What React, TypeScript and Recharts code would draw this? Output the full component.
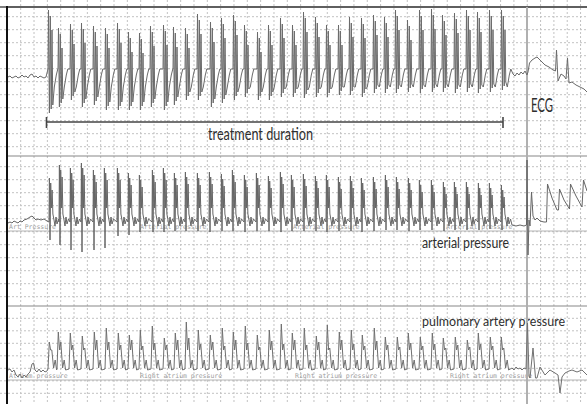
import React from 'react';
import { LineChart, Line, XAxis, YAxis, CartesianGrid, ReferenceLine } from 'recharts';

const W = 587;
const H = 404;

// time axis is in samples across the strip; amplitudes are relative to each trace's resting level

// ECG: beats during the treatment
const ecgBeatTimes = [48, 58, 70, 81, 93, 105, 117, 128, 139, 150, 163, 173, 185, 197, 210, 221, 233, 244, 257, 268, 280, 292, 303, 315, 326, 338, 349, 361, 373, 384, 395, 407, 419, 431, 442, 454, 466, 477, 489, 501];
const ecgPeaks = [67, 49, 53, 54, 51, 49, 54, 45, 44, 51, 52, 50, 49, 63, 55, 59, 62, 52, 45, 52, 59, 52, 65, 60, 52, 52, 60, 59, 62, 60, 67, 57, 67, 68, 62, 64, 67, 65, 67, 67];
const ecgTroughs = [-36, -30, -23, -30, -28, -33, -33, -33, -33, -30, -33, -28, -23, -23, -30, -26, -23, -20, -23, -23, -20, -20, -21, -20, -20, -18, -18, -20, -16, -16, -16, -15, -16, -15, -15, -16, -15, -16, -15, -13];
const ecgBefore = [[8, 0], [10, 1], [12, -1], [14, 0], [16, 1], [18, -1], [20, 0], [22, 2], [24, 0], [26, 1], [28, -1], [30, 2], [32, 3], [34, 0], [36, 1], [38, -1], [40, 1], [42, 0], [44, -1], [46, 0]];
const ecgAfter = [[513, 3], [515, 1], [517, 4], [519, 2], [521, 5], [523, 3], [525, 6], [527, 2], [528, 5], [529.5, 14], [532, 17], [535, 19], [537, 20], [541, 16], [545, 12], [549, 10], [553, 7], [555.5, 6], [556.5, 27], [558, -4], [561, 3], [564, 1], [566, -2], [567.5, 19], [569, -6], [572, -5], [576, -8], [580, -10], [584, -12], [587, -15]];

// arterial pressure
const artBeatTimes = [49, 59, 70, 81, 93, 104, 117, 128, 139, 152, 163, 174, 185, 197, 209, 221, 232, 244, 256, 268, 280, 291, 303, 315, 326, 338, 350, 361, 373, 385, 396, 408, 419, 431, 443, 454, 466, 478, 489, 501];
const artPeaks = [44, 57, 54, 59, 52, 54, 54, 49, 47, 52, 54, 49, 50, 49, 50, 48, 52, 47, 49, 46, 50, 47, 48, 46, 47, 45, 46, 44, 45, 47, 45, 44, 42, 42, 40, 40, 40, 39, 39, 37];
const artDips = [-18, -23, -28, -30, -28, -26, -14, -13, -10, -10, -10, -9, -9, -9, -10, -9, -9, -10, -9, -9, -10, -9, -9, -9, -10, -9, -9, -10, -9, -8, -8, -9, -8, -8, -9, -8, -8, -8, -7, -8];
const artBefore = [[8, -1], [10, 0], [12, -1], [14, 1], [16, 0], [18, -1], [20, 1], [22, 0], [24, 2], [27, 3], [30, 5], [32, 6], [34, 4], [36, 2], [38, 3], [41, 2], [44, 3], [47, 1]];
const artAfter = [[512, -3], [516, -4], [520, -3], [524, -4], [526.5, -3], [527, 62], [528, -33], [529, 2], [530, -4], [531.5, 30], [533, 6], [535, 2], [537, 4], [540, 1], [544, 0], [546.5, 0], [547.5, 38], [552, 24], [557, 12], [558.5, 12], [559.5, 33], [564, 22], [569.5, 13], [570.5, 38], [576, 26], [582, 15], [583.5, 42], [587, 31]];

// pulmonary artery pressure
const papBeatTimes = [48, 57, 69, 81, 93, 105, 117, 128, 139, 151, 163, 174, 185, 197, 209, 221, 232, 244, 256, 268, 280, 291, 303, 315, 326, 338, 350, 361, 373, 384, 396, 407, 419, 431, 442, 454, 466, 477, 489, 500];
const papFirstPeaks = [30, 40, 39, 36, 40, 44, 39, 37, 42, 46, 34, 39, 50, 42, 37, 44, 40, 46, 37, 42, 48, 39, 44, 36, 47, 40, 42, 37, 44, 35, 35, 39, 35, 39, 34, 35, 32, 39, 35, 35];
const papSecondPeaks = [22, 30, 27, 24, 32, 30, 27, 32, 26, 29, 27, 32, 34, 28, 30, 26, 32, 29, 25, 31, 28, 32, 27, 30, 24, 32, 28, 26, 31, 27, 25, 29, 26, 28, 24, 27, 25, 28, 26, 24];
const papBefore = [[8, 2], [10, 3], [12, 0], [14, 2], [16, -3], [18, -5], [20, -2], [22, -6], [24, -3], [26, -5], [28, -2], [30, 0], [32, 8], [33.5, 9], [35, 2], [37, 0], [39, 3], [41, 0], [43, 2], [45, 0], [47, 1]];
const papAfter = [[512, 4], [514, 2], [516, 5], [518, 3], [520, 4], [522, 2], [524, 4], [526, 3], [527.5, 49], [529, -4], [530, -6], [533, 24], [535.5, -6], [537, -6], [540, 5], [545, -3], [550, 2], [555, -1], [558, -3], [560, -21], [562, -5], [565, -1], [569, 1], [572, 2], [577, 0], [582, 2], [587, -3]];

const traceLabels = ['ECG', 'treatment duration', 'arterial pressure', 'pulmonary artery pressure'];
const monitorLabels = ['Art Pressure', 'Arterial pressure', 'Atrium pressure', 'Right atrium pressure'];

type Pt = { t: number; v: number };
const toPts = (pairs: number[][]): Pt[] => pairs.map(([t, v]) => ({ t, v }));

function buildEcg(): Pt[] {
  const pts = toPts(ecgBefore);
  ecgBeatTimes.forEach((t, i) => {
    const hi = ecgPeaks[i];
    const lo = ecgTroughs[i];
    pts.push(
      { t, v: 8 },
      { t: t + 0.5, v: hi },
      { t: t + 1.4, v: lo },
      { t: t + 2.3, v: hi - 6 },
      { t: t + 3.2, v: lo + 4 },
      { t: t + 4.0, v: hi - 20 },
      { t: t + 4.8, v: lo + 8 },
      { t: t + 6.3, v: -10 },
      { t: t + 8.3, v: 2 },
      { t: t + 9.8, v: 8 },
    );
  });
  return pts.concat(toPts(ecgAfter));
}

function buildArt(): Pt[] {
  const pts = toPts(artBefore);
  artBeatTimes.forEach((t, i) => {
    const hi = artPeaks[i];
    pts.push(
      { t, v: 0 },
      { t: t + 0.4, v: hi },
      { t: t + 1.0, v: artDips[i] },
      { t: t + 1.7, v: hi - 5 },
      { t: t + 2.4, v: 14 },
      { t: t + 3.1, v: hi - 12 },
      { t: t + 3.9, v: 8 },
      { t: t + 5, v: 2 },
      { t: t + 6, v: -4 },
      { t: t + 7, v: 5 },
      { t: t + 8, v: -2 },
      { t: t + 9.5, v: 3 },
    );
  });
  return pts.concat(toPts(artAfter));
}

function buildPap(): Pt[] {
  const pts = toPts(papBefore);
  papBeatTimes.forEach((t, i) => {
    pts.push(
      { t, v: 3 },
      { t: t + 1.3, v: papFirstPeaks[i] },
      { t: t + 2.6, v: 22 },
      { t: t + 3.8, v: papSecondPeaks[i] },
      { t: t + 5.6, v: 4 },
      { t: t + 7.2, v: 12 },
      { t: t + 8.6, v: 2 },
    );
  });
  return pts.concat(toPts(papAfter));
}

const ecgData = buildEcg();
const artData = buildArt();
const papData = buildPap();

// resting level of each trace, measured down from the top of the strip
const ECG_BASE = 77;
const ART_BASE = 222;
const PAP_BASE = 372;

const gridX = Array.from({ length: 44 }, (_, k) => 20.7 + 13.33 * k);
const gridY = [
  ...Array.from({ length: 11 }, (_, k) => 16.7 + 13 * k),
  ...Array.from({ length: 11 }, (_, k) => 166.7 + 13 * k),
  ...Array.from({ length: 7 }, (_, k) => 318.3 + 12.5 * k),
];

const labelFont = 'Lato, "Open Sans", sans-serif';
const monoFont = '"DejaVu Sans Mono", monospace';

// frame pieces are placed on the arterial axis; depth is measured down from the strip top
const Seg = (key: string, x1: number, d1: number, x2: number, d2: number, stroke: string, w: number) => (
  <ReferenceLine
    key={key}
    yAxisId="art"
    ifOverflow="visible"
    segment={[{ x: x1, y: ART_BASE - d1 }, { x: x2, y: ART_BASE - d2 }]}
    stroke={stroke}
    strokeWidth={w}
  />
);

export default function App() {
  return (
    <div style={{ position: 'absolute', left: 0, top: 0, width: W, height: H, background: '#fff' }}>
      <LineChart width={W} height={H} margin={{ top: 0, right: 0, bottom: 0, left: 0 }}>
        <XAxis type="number" dataKey="t" domain={[0, W]} hide allowDataOverflow />
        <YAxis yAxisId="ecg" type="number" domain={[ECG_BASE - H, ECG_BASE]} hide allowDataOverflow />
        <YAxis yAxisId="art" type="number" domain={[ART_BASE - H, ART_BASE]} hide allowDataOverflow />
        <YAxis yAxisId="pap" type="number" domain={[PAP_BASE - H, PAP_BASE]} hide allowDataOverflow />
        <CartesianGrid
          yAxisId="ecg"
          verticalPoints={gridX}
          horizontalPoints={gridY}
          stroke="#c2c2c2"
          strokeDasharray="2 2"
        />
        {/* top edge of the strip */}
        <CartesianGrid yAxisId="ecg" vertical={false} horizontalPoints={[7]} stroke="#555" strokeWidth={1.6} />

        {/* strip frame */}
        <line x1={6} y1={7} x2={W} y2={7} stroke="#555" strokeWidth={1.6} />
        {Seg('sep1', 7, 156, W, 156, '#888', 1.2)}
        {Seg('sep2', 7, 306, W, 306, '#888', 1.2)}
        {Seg('art0', 7, 231, W, 231, '#b4b4b4', 1)}
        {Seg('pap0', 7, 380, W, 380, '#b4b4b4', 1)}
        {Seg('mark', 527, 7, 527, H, '#b0b0b0', 2)}
        {Seg('left', 7, 6, 7, H, '#111', 2)}

        {/* treatment bracket */}
        {Seg('br', 46.5, 122, 503, 122, '#444', 1.6)}
        {Seg('brl', 46.5, 117, 46.5, 128, '#444', 1.6)}
        {Seg('brr', 503, 117, 503, 128, '#444', 1.6)}

        <Line yAxisId="ecg" data={ecgData} dataKey="v" type="linear" stroke="#6a6a6a" strokeWidth={1} dot={false} activeDot={false} isAnimationActive={false} />
        <Line yAxisId="art" data={artData} dataKey="v" type="linear" stroke="#666" strokeWidth={1} dot={false} activeDot={false} isAnimationActive={false} />
        <Line yAxisId="pap" data={papData} dataKey="v" type="linear" stroke="#707070" strokeWidth={1} dot={false} activeDot={false} isAnimationActive={false} />

        <g fontFamily={monoFont} fontSize={6.5} fill="#a0a0a0">
          <text x={9} y={229}>{monitorLabels[0]}</text>
          <text x={140} y={229}>{monitorLabels[1]}</text>
          <text x={293} y={229}>{monitorLabels[1]}</text>
          <text x={446} y={229}>{monitorLabels[1]}</text>
          <text x={9} y={378}>{monitorLabels[2]}</text>
          <text x={140} y={378}>{monitorLabels[3]}</text>
          <text x={295} y={378}>{monitorLabels[3]}</text>
          <text x={450} y={378}>{monitorLabels[3]}</text>
        </g>

        <g fontFamily={labelFont} fill="#2e2e2e">
          <text x={531} y={112} fontSize={19} textLength={22} lengthAdjust="spacingAndGlyphs">{traceLabels[0]}</text>
          <text x={208} y={140} fontSize={17} textLength={105} lengthAdjust="spacingAndGlyphs">{traceLabels[1]}</text>
          <text x={422} y={248} fontSize={15.5} textLength={87} lengthAdjust="spacingAndGlyphs">{traceLabels[2]}</text>
          <text x={422} y={326} fontSize={14} textLength={143} lengthAdjust="spacingAndGlyphs">{traceLabels[3]}</text>
        </g>
      </LineChart>
    </div>
  );
}
